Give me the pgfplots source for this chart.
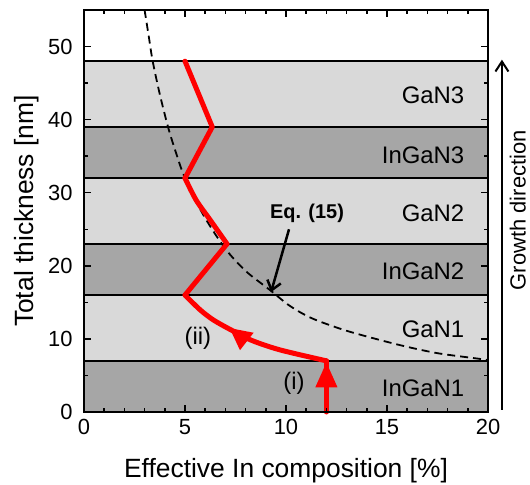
\documentclass[border=0pt]{standalone}
\usepackage{fontspec}
\setmainfont{Liberation Sans}
\usepackage{pgfplots}
\pgfplotsset{compat=1.18}
\usetikzlibrary{arrows.meta}

\definecolor{darkband}{HTML}{A6A6A6}
\definecolor{lightband}{HTML}{D9D9D9}

\begin{document}
\begin{tikzpicture}
\begin{axis}[
    scale only axis, width=404bp, height=402bp,
    xmin=0, xmax=20, ymin=0, ymax=55,
    xtick={0,5,...,20}, ytick={0,10,...,50},
    minor x tick num=4, minor y tick num=1,
    tick align=inside, major tick length=7bp, minor tick length=4bp,
    axis line style={line width=2.2bp},
    tick style={line width=1.5bp, black},
    axis on top, clip=false,
    /pgf/number format/assume math mode=true,
    ticklabel style={font=\fontsize{22}{26}\selectfont},
    xticklabel style={yshift=-4bp},
    yticklabel style={xshift=-8bp},
    label style={font=\fontsize{26.5}{30}\selectfont},
    xlabel={Effective In composition [\%]},
    ylabel={Total thickness [nm]},
    xlabel style={at={(axis description cs:0.5,-0.164)}, anchor=base},
    ylabel style={at={(axis description cs:-0.141,0.5)}, anchor=center},
]
% layers
\addplot[fill=darkband, draw=none] coordinates {(0,0) (20,0) (20,7) (0,7)} -- cycle;
\addplot[fill=lightband, draw=none] coordinates {(0,7) (20,7) (20,16) (0,16)} -- cycle;
\addplot[fill=darkband, draw=none] coordinates {(0,16) (20,16) (20,23) (0,23)} -- cycle;
\addplot[fill=lightband, draw=none] coordinates {(0,23) (20,23) (20,32) (0,32)} -- cycle;
\addplot[fill=darkband, draw=none] coordinates {(0,32) (20,32) (20,39) (0,39)} -- cycle;
\addplot[fill=lightband, draw=none] coordinates {(0,39) (20,39) (20,48) (0,48)} -- cycle;
\addplot[black, line width=1.8bp] coordinates {(0,7) (20,7)};
\addplot[black, line width=1.8bp] coordinates {(0,16) (20,16)};
\addplot[black, line width=1.8bp] coordinates {(0,23) (20,23)};
\addplot[black, line width=1.8bp] coordinates {(0,32) (20,32)};
\addplot[black, line width=1.8bp] coordinates {(0,39) (20,39)};
\addplot[black, line width=1.8bp] coordinates {(0,48) (20,48)};

% Eq. (15)
\addplot[black, line width=1.8bp, dash pattern=on 8bp off 5bp, smooth] coordinates {
 (3.0,55) (3.2,51.5) (3.4,48) (3.75,43.5) (4.16,39) (4.55,35.5) (5.0,32)
 (5.9,27) (6.98,22.4) (8.0,19.3) (9.2,16.7) (10.2,14.5) (11.3,12.8)
 (12.9,11.2) (14.65,9.85) (16.1,8.85) (17.6,8.0) (19.5,7.3) (20,7.1)};

% effective composition
\addplot[red, line width=5bp, line cap=round] coordinates {(12,0) (12,7)};
\addplot[red, line width=5bp, line cap=round, smooth] coordinates {
 (12,7) (9.7,8.5) (8.3,9.8) (7.3,11.2) (6.4,12.6) (5.74,14.0) (5.0,16.0)};
\addplot[red, line width=5bp, line cap=round] coordinates {(5.0,16.0) (7.08,23)};
\addplot[red, line width=5bp, line cap=round, smooth] coordinates {
 (7.08,23) (6.24,26.3) (5.55,29.0) (5.0,32.0)};
\addplot[red, line width=5bp, line cap=round, line join=round] coordinates {(5.0,32.0) (6.35,39) (5.0,48)};
\addplot[red, line width=4bp, -{Triangle[length=25bp,width=21bp]}] coordinates {(12,2) (12,6.8)};
\addplot[red, line width=4bp, -{Triangle[length=22bp,width=21bp]}] coordinates {(7.85,10.1) (7.2,11.5)};

% annotations
\node[font=\fontsize{24}{28}\selectfont, anchor=east] at (axis cs:19.0,3.3) {InGaN1};
\node[font=\fontsize{24}{28}\selectfont, anchor=east] at (axis cs:19.0,11.3) {GaN1};
\node[font=\fontsize{24}{28}\selectfont, anchor=east] at (axis cs:19.0,19.3) {InGaN2};
\node[font=\fontsize{24}{28}\selectfont, anchor=east] at (axis cs:19.0,27.2) {GaN2};
\node[font=\fontsize{24}{28}\selectfont, anchor=east] at (axis cs:19.0,35.1) {InGaN3};
\node[font=\fontsize{24}{28}\selectfont, anchor=east] at (axis cs:19.0,43.3) {GaN3};
\node[font=\fontsize{24}{28}\selectfont] at (axis cs:10.4,3.9) {(i)};
\node[font=\fontsize{24}{28}\selectfont] at (axis cs:5.64,10.1) {(ii)};
\node[font=\fontsize{20}{24}\selectfont\bfseries] at (axis cs:11.04,27.2) {Eq. (15)};
\draw[line width=2.5bp, -{Straight Barb[length=9bp,width=14bp]}] (axis cs:10.15,25.0) -- (axis cs:9.26,16.4);
\draw[line width=2bp, -{Straight Barb[length=10bp,width=13bp]}] (axis cs:20.69,0.3) -- (axis cs:20.69,48.2);
\node[font=\fontsize{22}{26}\selectfont, rotate=90] at (axis cs:21.48,27.6) {Growth direction};
\end{axis}
\pgfresetboundingbox
\path (current axis.south west) ++(-84bp,-73bp) rectangle ++(530bp,485bp);
\end{tikzpicture}
\end{document}
